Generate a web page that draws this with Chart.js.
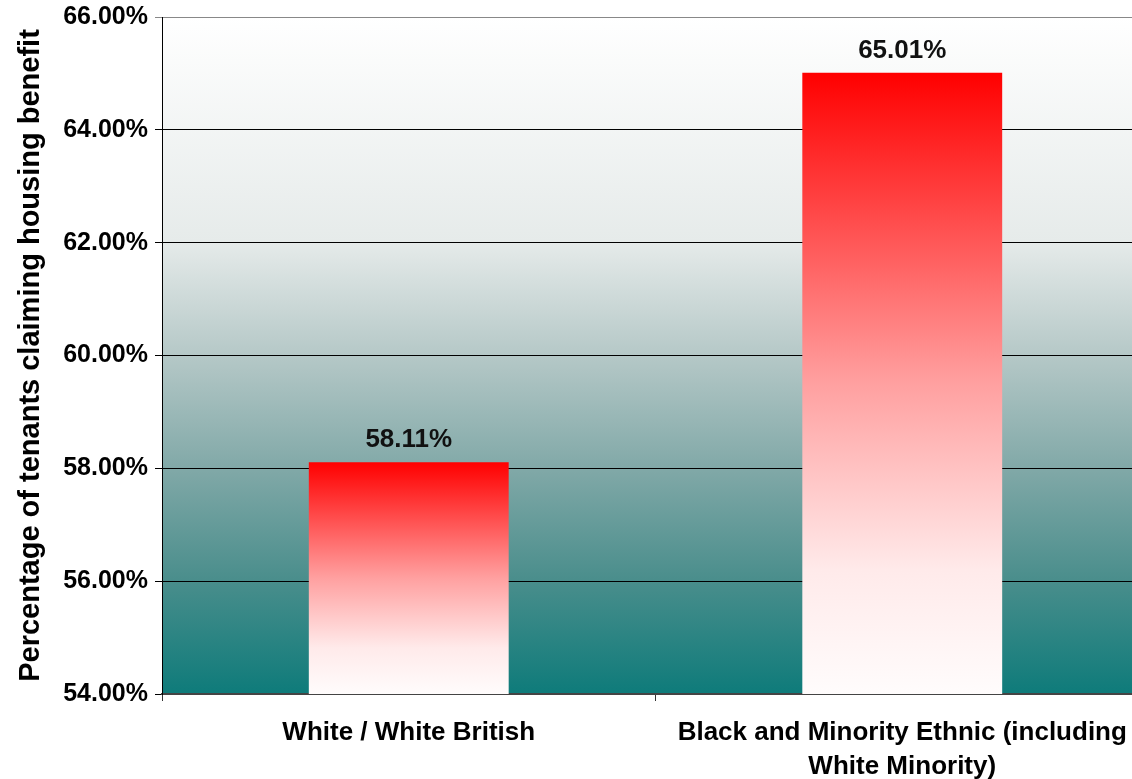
<!DOCTYPE html>
<html>
<head>
<meta charset="utf-8">
<script src="https://cdn.jsdelivr.net/npm/chart.js@4.4.1/dist/chart.umd.min.js"></script>
<style>
  html, body { margin: 0; padding: 0; background: #fff; overflow: hidden; }
  #wrap { width: 1149px; height: 779px; position: relative; }
</style>
</head>
<body>
<div id="wrap"><canvas id="hb-chart"></canvas></div>
<script>
// Housing benefit claims by ethnic group
const groups = [
  "White / White British",
  ["Black and Minority Ethnic (including", "White Minority)"]
];
const claimRates = [58.11, 65.01];
const yMin = 54, yMax = 66, yStep = 2;
const yTitle = "Percentage of tenants claiming housing benefit";

const FONT = "'Liberation Sans', Arial, sans-serif";

// teal wash behind the bars
const plotBackground = {
  id: "plotBackground",
  beforeDraw(chart) {
    const { ctx, chartArea: a } = chart;
    const g = ctx.createLinearGradient(0, a.top, 0, a.bottom);
    g.addColorStop(0, "#ffffff");
    g.addColorStop(0.33, "#e6ebea");
    g.addColorStop(0.5, "#b5c8c7");
    g.addColorStop(0.67, "#80a8a7");
    g.addColorStop(0.83, "#4a8e8c");
    g.addColorStop(1, "#0e7b7a");
    ctx.save();
    ctx.fillStyle = g;
    ctx.fillRect(a.left, a.top, a.right - a.left, a.bottom - a.top);
    ctx.restore();
  }
};

// value labels above each bar
const valueLabels = {
  id: "valueLabels",
  afterDatasetsDraw(chart) {
    const { ctx } = chart;
    const meta = chart.getDatasetMeta(0);
    ctx.save();
    ctx.font = "bold 26px " + FONT;
    ctx.fillStyle = "#111";
    ctx.textAlign = "center";
    ctx.textBaseline = "middle";
    meta.data.forEach((bar, i) => {
      ctx.fillText(claimRates[i].toFixed(2) + "%", bar.x, bar.y - 22);
    });
    ctx.restore();
  }
};

function barFill(context) {
  const chart = context.chart;
  const area = chart.chartArea;
  if (!area || context.raw == null) return "#ff0000";
  const top = chart.scales.y.getPixelForValue(context.raw);
  const g = chart.ctx.createLinearGradient(0, top, 0, area.bottom);
  g.addColorStop(0, "#ff0000");
  g.addColorStop(0.5, "#ffa0a0");
  g.addColorStop(0.8, "#ffeaea");
  g.addColorStop(1, "#fffcfc");
  return g;
}

new Chart(document.getElementById("hb-chart"), {
  type: "bar",
  data: {
    labels: groups,
    datasets: [{
      data: claimRates,
      backgroundColor: barFill,
      borderWidth: 0,
      categoryPercentage: 1,
      barPercentage: 0.405
    }]
  },
  plugins: [plotBackground, valueLabels],
  options: {
    responsive: true,
    maintainAspectRatio: false,
    animation: false,
    layout: { padding: { top: 17, right: 0, left: 0, bottom: 0 } },
    plugins: {
      legend: { display: false },
      tooltip: { enabled: false }
    },
    scales: {
      x: {
        grid: {
          offset: true,
          drawOnChartArea: false,
          drawTicks: true,
          tickLength: 7,
          color: "#333"
        },
        border: { color: "#444", width: 2 },
        ticks: {
          color: "#000",
          padding: 15,
          font: { family: FONT, size: 26, weight: "bold", lineHeight: 1.3 }
        },
        afterFit(scale) {
          scale.height = 85;
          scale.paddingLeft = 0;
          scale.paddingRight = 0;
        }
      },
      y: {
        min: yMin,
        max: yMax,
        grid: {
          color: (c) => c.tick && c.tick.value === yMax ? "#888" : "#000",
          lineWidth: 1,
          tickLength: 7
        },
        border: { color: "#000", width: 1 },
        ticks: {
          stepSize: yStep,
          color: "#000",
          padding: 7,
          font: { family: FONT, size: 25, weight: "bold" },
          callback: (v) => v.toFixed(2) + "%"
        },
        title: {
          display: true,
          text: yTitle,
          color: "#000",
          padding: { top: 14, bottom: 0 },
          font: { family: FONT, size: 29, weight: "bold" }
        },
        afterFit(scale) {
          scale.width = 162;
          scale.paddingTop = 0;
          scale.paddingBottom = 0;
        }
      }
    }
  }
});
</script>
</body>
</html>
